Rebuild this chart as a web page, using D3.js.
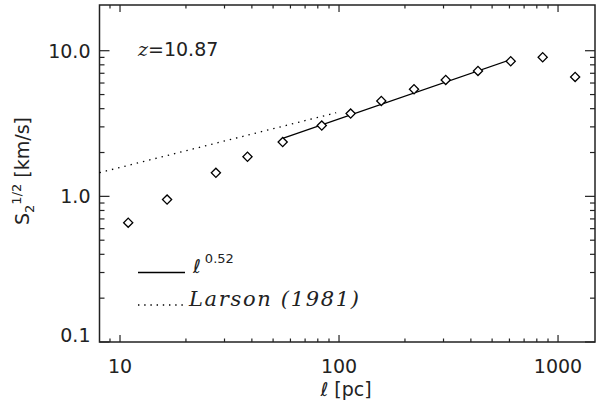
<!DOCTYPE html>
<html>
<head>
<meta charset="utf-8">
<script src="https://cdn.jsdelivr.net/npm/d3@7"></script>
<style>
  body { margin: 0; background: #fff; }
  svg { display: block; }
</style>
</head>
<body>
<svg id="chart" width="597" height="404"></svg>
<script>

// data
const scaleVals = [10.9, 16.4, 27.4, 38.2, 55.3, 83.4, 113, 156, 220, 307, 431, 608, 851, 1197];
const sfVals    = [0.66, 0.95, 1.45, 1.87, 2.36, 3.06, 3.70, 4.52, 5.44, 6.30, 7.27, 8.47, 9.02, 6.61];

const fitL = [55.3, 608];
const fitS = [2.50, 8.69];

const larsonL = [8.06, 97];
const larsonS = [1.455, 3.75];

const xMajor = [10, 100, 1000];
const xLabels = ["10", "100", "1000"];
const yMajor = [0.1, 1, 10];
const yLabels = ["0.1", "1.0", "10.0"];

const vars = {
    margin: { left: 99.5, top: 5, right: 595, bottom: 342 },
    font: "'DejaVu Sans', sans-serif",
    ink: "#222"
};

const svg = d3.select("#chart");

const x = d3.scaleLog().domain([8.06, 1475]).range([vars.margin.left, vars.margin.right]);
const y = d3.scaleLog().domain([0.1, 20.6]).range([vars.margin.bottom, vars.margin.top]);

//
// FRAME + TICKS
//

const isMajor = v => Math.abs(Math.log10(v) - Math.round(Math.log10(v))) < 1e-6;

const xTicks = x.ticks();
const yTicks = y.ticks().filter(v => v < 19);

const ticks = svg.append("g").attr("id", "ticks")
    .attr("stroke", vars.ink)
    .attr("stroke-width", 1.2);

// bottom + top
ticks.selectAll("line.xb")
    .data(xTicks)
    .enter().append("line")
        .attr("class", "xb")
        .attr("x1", d => x(d)).attr("x2", d => x(d))
        .attr("y1", vars.margin.bottom)
        .attr("y2", d => vars.margin.bottom - (isMajor(d) ? 7 : 3.5));

ticks.selectAll("line.xt")
    .data(xTicks)
    .enter().append("line")
        .attr("class", "xt")
        .attr("x1", d => x(d)).attr("x2", d => x(d))
        .attr("y1", vars.margin.top)
        .attr("y2", d => vars.margin.top + (isMajor(d) ? 7 : 3.5));

// left + right
ticks.selectAll("line.yl")
    .data(yTicks)
    .enter().append("line")
        .attr("class", "yl")
        .attr("y1", d => y(d)).attr("y2", d => y(d))
        .attr("x1", vars.margin.left)
        .attr("x2", d => vars.margin.left + (isMajor(d) ? 10 : 5));

ticks.selectAll("line.yr")
    .data(yTicks)
    .enter().append("line")
        .attr("class", "yr")
        .attr("y1", d => y(d)).attr("y2", d => y(d))
        .attr("x1", vars.margin.right)
        .attr("x2", d => vars.margin.right - (isMajor(d) ? 10 : 5));

svg.append("rect")
    .attr("x", vars.margin.left)
    .attr("y", vars.margin.top)
    .attr("width", vars.margin.right - vars.margin.left)
    .attr("height", vars.margin.bottom - vars.margin.top)
    .style("fill", "none")
    .style("stroke", vars.ink)
    .style("stroke-width", 1.5);

//
// TICK LABELS
//

svg.append("g").selectAll("text")
    .data(xMajor)
    .enter().append("text")
        .attr("x", d => x(d))
        .attr("y", 373)
        .attr("text-anchor", "middle")
        .style("font-family", vars.font)
        .style("font-size", "19px")
        .style("fill", vars.ink)
        .text((d, i) => xLabels[i]);

svg.append("g").selectAll("text")
    .data(yMajor)
    .enter().append("text")
        .attr("x", 90.5)
        .attr("y", d => Math.min(y(d) + 6.8, 341.7))
        .attr("text-anchor", "end")
        .style("font-family", vars.font)
        .style("font-size", "19px")
        .style("fill", vars.ink)
        .text((d, i) => yLabels[i]);

//
// AXIS TITLES
//

svg.append("text")
    .attr("x", 346)
    .attr("y", 396)
    .attr("text-anchor", "middle")
    .style("font-family", vars.font)
    .style("font-size", "19px")
    .style("fill", vars.ink)
    .text("ℓ [pc]");

let yTitle = svg.append("text")
    .attr("transform", "translate(29, 171) rotate(-90)")
    .attr("text-anchor", "middle")
    .style("font-family", vars.font)
    .style("font-size", "19px")
    .style("fill", vars.ink);
yTitle.append("tspan").text("S");
yTitle.append("tspan").attr("dy", 5).style("font-size", "13px").text("2");
yTitle.append("tspan").attr("dy", -13).style("font-size", "13px").text("1/2");
yTitle.append("tspan").attr("dy", 8).text(" [km/s]");

//
// LINES
//

const line = d3.line()
    .x(d => x(d[0]))
    .y(d => y(d[1]));

svg.append("path")
    .datum(larsonL.map((l, i) => [l, larsonS[i]]))
    .attr("fill", "none")
    .attr("stroke", "#000")
    .attr("stroke-width", 1.3)
    .attr("stroke-dasharray", "1.4 5")
    .attr("d", line);

svg.append("path")
    .datum(fitL.map((l, i) => [l, fitS[i]]))
    .attr("fill", "none")
    .attr("stroke", "#000")
    .attr("stroke-width", 1.3)
    .attr("d", line);

//
// POINTS
//

const diamond = d3.symbol().type(d3.symbolSquare).size(42);

svg.append("g").attr("id", "points")
    .selectAll("path")
    .data(scaleVals.map((l, i) => ({ l: l, s: sfVals[i] })))
    .enter().append("path")
        .attr("transform", d => `translate(${x(d.l)}, ${y(d.s)}) rotate(45)`)
        .attr("d", diamond)
        .style("fill", "#fff")
        .style("stroke", "#000")
        .style("stroke-width", 1.3);

//
// ANNOTATIONS
//

let zLabel = svg.append("text")
    .attr("x", 138)
    .attr("y", 55.5)
    .style("font-family", vars.font)
    .style("font-size", "19px")
    .style("fill", vars.ink);
zLabel.append("tspan").style("font-style", "italic").style("font-family", "'DejaVu Serif', serif").text("z");
zLabel.append("tspan").text("=10.87");

// legend
svg.append("line")
    .attr("x1", 138).attr("x2", 185)
    .attr("y1", 272.5).attr("y2", 272.5)
    .attr("stroke", "#000")
    .attr("stroke-width", 1.3);

svg.append("line")
    .attr("x1", 138).attr("x2", 183)
    .attr("y1", 305).attr("y2", 305)
    .attr("stroke", "#000")
    .attr("stroke-width", 1.3)
    .attr("stroke-dasharray", "1.4 4.8");

let fitLabel = svg.append("text")
    .attr("x", 193)
    .attr("y", 273)
    .style("font-family", vars.font)
    .style("font-size", "19px")
    .style("fill", vars.ink);
fitLabel.append("tspan").text("ℓ");
fitLabel.append("tspan").attr("dx", 4).attr("dy", -10).style("font-size", "13px").text("0.52");

svg.append("text")
    .attr("x", 189)
    .attr("y", 305.5)
    .attr("textLength", 170)
    .attr("lengthAdjust", "spacing")
    .style("font-family", "'DejaVu Serif', serif")
    .style("font-style", "italic")
    .style("font-size", "21px")
    .style("fill", vars.ink)
    .text("Larson (1981)");

</script>
</body>
</html>
